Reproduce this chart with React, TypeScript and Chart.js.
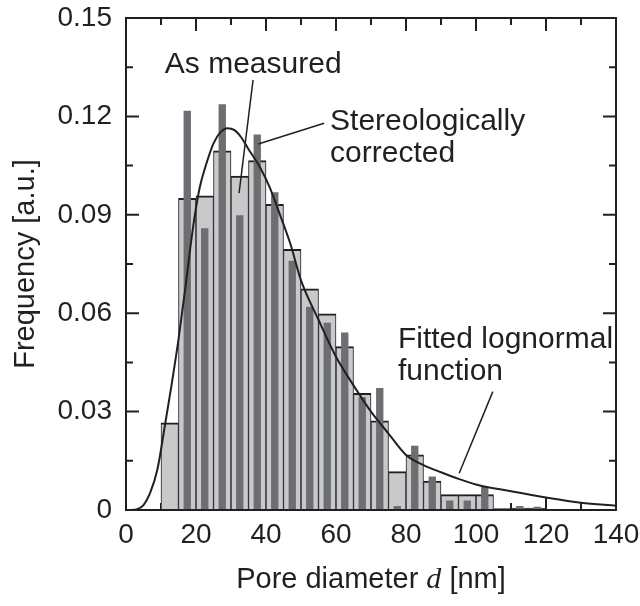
import { useEffect, useRef } from 'react';
import { Chart, registerables } from 'chart.js';

Chart.register(...registerables);

// Bin centres of the 5 nm histogram bins [nm]
const binCenters = [12.5, 17.5, 22.5, 27.5, 32.5, 37.5, 42.5, 47.5, 52.5, 57.5, 62.5, 67.5, 72.5, 77.5, 82.5, 87.5, 92.5, 97.5, 102.5, 107.5, 112.5, 117.5];
// Stereologically corrected frequencies (light bars)
const corrected = [0.0266, 0.095, 0.0958, 0.1095, 0.1018, 0.1065, 0.0932, 0.0795, 0.0674, 0.0598, 0.0498, 0.0356, 0.0272, 0.0117, 0.0168, 0.0088, 0.0047, 0.0047, 0.0047, 0.0004, 0.0006, 0.0006];
// As measured frequencies (dark narrow bars)
const measured = [0, 0.1217, 0.0859, 0.1237, 0.0899, 0.1145, 0.0969, 0.076, 0.062, 0.0571, 0.0541, 0.0344, 0.0372, 0.0012, 0.0196, 0.0102, 0.0029, 0.0029, 0.0071, 0, 0.0012, 0.001];
// Fitted lognormal function
const fitX = [1, 3, 5, 7, 9, 11, 13, 15, 17, 19, 21, 23, 25, 27, 29, 31, 33, 35, 38, 41, 44, 47, 50, 55, 60, 65, 70, 75, 80, 85, 90, 95, 100, 110, 120, 130, 140];
const fitY = [0, 0.0002, 0.0015, 0.0055, 0.0125, 0.025, 0.038, 0.052, 0.068, 0.085, 0.098, 0.1057, 0.1118, 0.1152, 0.1164, 0.1158, 0.1135, 0.11, 0.105, 0.0985, 0.09, 0.081, 0.07, 0.058, 0.0467, 0.038, 0.03, 0.0233, 0.0168, 0.0137, 0.0115, 0.0095, 0.0078, 0.0057, 0.0038, 0.0022, 0.0013];

const xMajor = [0, 20, 40, 60, 80, 100, 120, 140];
const xMinor = [10, 30, 50, 70, 90, 110, 130];
const yMajor = [0, 0.03, 0.06, 0.09, 0.12, 0.15];
const yMinor = [0.015, 0.045, 0.075, 0.105, 0.135];

const INK = '#231f20';
const FONT = '"Liberation Sans", Arial, Helvetica, sans-serif';

type Note = { text: string; x: number; y: number };
const notes: Note[] = [
  { text: 'As measured', x: 11.1, y: 0.1357 },
  { text: 'Stereologically', x: 58.3, y: 0.1183 },
  { text: 'corrected', x: 58.3, y: 0.1085 },
  { text: 'Fitted lognormal', x: 77.7, y: 0.0518 },
  { text: 'function', x: 77.7, y: 0.0421 },
];
const leaders: [number, number, number, number][] = [
  [36.3, 0.1311, 32.3, 0.0966],
  [56.6, 0.1179, 37.8, 0.1116],
  [104.8, 0.0361, 95.2, 0.0112],
];

const decor = {
  id: 'decor',
  beforeDatasetsDraw(chart: any) {
    const { ctx, chartArea: a, scales } = chart;
    const xs = scales.x, ys = scales.y;
    ctx.save();
    ctx.strokeStyle = INK;
    ctx.lineWidth = 2;
    const tick = (vals: number[], len: number) => {
      vals.forEach((v) => {
        const px = xs.getPixelForValue(v);
        ctx.beginPath();
        ctx.moveTo(px, a.bottom); ctx.lineTo(px, a.bottom - len);
        ctx.moveTo(px, a.top); ctx.lineTo(px, a.top + len);
        ctx.stroke();
      });
    };
    const ytick = (vals: number[], len: number) => {
      vals.forEach((v) => {
        const py = ys.getPixelForValue(v);
        ctx.beginPath();
        ctx.moveTo(a.left, py); ctx.lineTo(a.left + len, py);
        ctx.moveTo(a.right, py); ctx.lineTo(a.right - len, py);
        ctx.stroke();
      });
    };
    tick(xMajor, 13); tick(xMinor, 7);
    ytick(yMajor, 13); ytick(yMinor, 7);
    ctx.restore();
  },
  afterDatasetsDraw(chart: any) {
    const { ctx, chartArea: a, scales } = chart;
    const xs = scales.x, ys = scales.y;
    ctx.save();
    ctx.strokeStyle = INK;
    ctx.lineWidth = 2;
    ctx.strokeRect(a.left, a.top, a.right - a.left, a.bottom - a.top);
    ctx.lineWidth = 1.5;
    leaders.forEach(([x1, y1, x2, y2]) => {
      ctx.beginPath();
      ctx.moveTo(xs.getPixelForValue(x1), ys.getPixelForValue(y1));
      ctx.lineTo(xs.getPixelForValue(x2), ys.getPixelForValue(y2));
      ctx.stroke();
    });
    ctx.fillStyle = INK;
    ctx.font = `30px ${FONT}`;
    ctx.textAlign = 'left';
    ctx.textBaseline = 'middle';
    notes.forEach((n) => {
      ctx.fillText(n.text, xs.getPixelForValue(n.x), ys.getPixelForValue(n.y));
    });
    // x axis title with italic math d
    const parts: [string, string][] = [
      ['Pore diameter ', `29px ${FONT}`],
      ['d', `italic 30px "Liberation Serif", "DejaVu Serif", serif`],
      [' [nm]', `29px ${FONT}`],
    ];
    let total = 0;
    parts.forEach(([t, f]) => { ctx.font = f; total += ctx.measureText(t).width; });
    let cx = (a.left + a.right) / 2 - total / 2;
    const by = a.bottom + 78;
    ctx.textBaseline = 'alphabetic';
    parts.forEach(([t, f]) => {
      ctx.font = f;
      ctx.fillText(t, cx, by);
      cx += ctx.measureText(t).width;
    });
    ctx.restore();
  },
};

export default function App() {
  const ref = useRef<HTMLCanvasElement>(null);
  useEffect(() => {
    if (!ref.current) return;
    const chart = new Chart(ref.current, {
      type: 'bar',
      data: {
        datasets: [
          {
            type: 'line',
            label: 'Fitted lognormal function',
            data: fitX.map((x, i) => ({ x, y: fitY[i] })),
            borderColor: INK,
            borderWidth: 2,
            pointRadius: 0,
            fill: false,
            cubicInterpolationMode: 'monotone',
            order: 0,
          } as any,
          {
            type: 'bar',
            label: 'As measured',
            data: binCenters.map((x, i) => ({ x, y: measured[i] })),
            backgroundColor: '#6d6e71',
            borderWidth: 0,
            grouped: false,
            barPercentage: 0.42,
            categoryPercentage: 1,
            order: 1,
          } as any,
          {
            type: 'bar',
            label: 'Stereologically corrected',
            data: binCenters.map((x, i) => ({ x, y: corrected[i] })),
            backgroundColor: '#c8c9cb',
            borderColor: INK,
            borderWidth: { top: 2, left: 1, right: 1, bottom: 0 },
            borderSkipped: false,
            grouped: false,
            barPercentage: 1,
            categoryPercentage: 1,
            order: 2,
          } as any,
        ],
      },
      options: {
        animation: false,
        responsive: true,
        maintainAspectRatio: false,
        layout: { padding: { left: 0, right: 24, top: 18, bottom: 0 } },
        plugins: { legend: { display: false }, tooltip: { enabled: false } },
        scales: {
          x: {
            type: 'linear',
            min: 0,
            max: 140,
            offset: false,
            grid: { display: false, drawTicks: false, offset: false },
            border: { display: false },
            ticks: {
              stepSize: 20,
              padding: 8,
              color: INK,
              maxRotation: 0,
              autoSkip: false,
              font: { size: 28, family: FONT },
            },
            afterFit: (s: any) => {
              s.height = 96;
              s.paddingLeft = 0;
              s.paddingRight = 0;
            },
          },
          y: {
            type: 'linear',
            min: 0,
            max: 0.15,
            grid: { display: false, drawTicks: false },
            border: { display: false },
            ticks: {
              stepSize: 0.03,
              padding: 14,
              color: INK,
              font: { size: 28, family: FONT },
              callback: (v: any) => (Number(v) === 0 ? '0' : Number(v).toFixed(2)),
            },
            title: {
              display: true,
              text: 'Frequency [a.u.]',
              color: INK,
              font: { size: 29, family: FONT },
              padding: { top: 9, bottom: 0 },
            },
            afterFit: (s: any) => {
              s.width = 126;
              s.paddingTop = 0;
              s.paddingBottom = 0;
            },
          },
        },
      },
      plugins: [decor],
    } as any);
    return () => chart.destroy();
  }, []);
  return (
    <div style={{ position: 'fixed', left: 0, top: 0, width: 640, height: 606, background: '#fff' }}>
      <canvas ref={ref} />
    </div>
  );
}
